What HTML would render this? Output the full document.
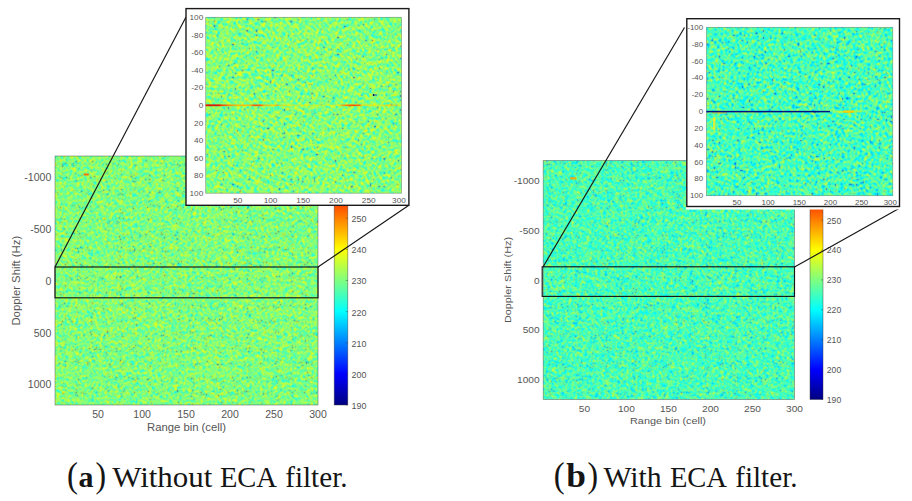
<!DOCTYPE html>
<html lang="en"><head><meta charset="utf-8"><title>Range-Doppler maps with and without ECA filter</title>
<style>
html,body{margin:0;padding:0;background:#fff;}
body{width:912px;height:501px;overflow:hidden;position:relative;font-family:"Liberation Sans",sans-serif;}
svg{position:absolute;left:0;top:0;display:block;}
svg text{font-family:"Liberation Sans",sans-serif;fill:#555;}
svg text.cap{font-family:"Liberation Serif",serif;fill:#151515;}
</style></head><body>
<svg width="912" height="501" viewBox="0 0 912 501">
<defs>
<filter id="nL" x="0" y="0" width="1" height="1" color-interpolation-filters="sRGB"><feTurbulence type="fractalNoise" baseFrequency="0.8" numOctaves="2" seed="11"/><feColorMatrix type="matrix" values="1 0 0 0 0 1 0 0 0 0 1 0 0 0 0 0 0 0 0 1"/><feConvolveMatrix order="3" kernelMatrix="1 2 1 2 7 2 1 2 1" edgeMode="duplicate" preserveAlpha="true"/><feComponentTransfer result="bulk"><feFuncR type="table" tableValues="0 0 0 0 0 0 0 0 0 0 0 0 0 0 0 0 0 0 0 0 0 0 0 0 0 0 0 0 0 0 0 0 0 0 0 0 0 0 0 0 0 0 0 0 0 0 0 0 0 0 0 0.031 0.071 0.111 0.15 0.186 0.223 0.259 0.296 0.332 0.368 0.405 0.442 0.48 0.518 0.554 0.59 0.626 0.662 0.697 0.731 0.766 0.801 0.837 0.873 0.909 0.946 0.982 1 1 1 1 1 1 1 1 1 1 1 1 1 1 1 1 1 1 1 1 1 1 1 1 1 1 1 1 1 1 1 1 1 1 1 1 1 1 1 1 1 1 1 1 1 1 1 1 1 1 1"/><feFuncG type="table" tableValues="0.87 0.87 0.87 0.87 0.87 0.87 0.87 0.87 0.87 0.87 0.87 0.87 0.87 0.87 0.87 0.87 0.87 0.87 0.87 0.87 0.87 0.87 0.87 0.87 0.87 0.87 0.87 0.87 0.87 0.87 0.87 0.87 0.87 0.87 0.87 0.87 0.87 0.87 0.87 0.87 0.87 0.87 0.87 0.87 0.87 0.87 0.87 0.87 0.912 0.951 0.993 1 1 1 1 1 1 1 1 1 1 1 1 1 1 1 1 1 1 1 1 1 1 1 1 1 1 1 0.977 0.939 0.906 0.88 0.88 0.88 0.88 0.88 0.88 0.88 0.88 0.88 0.88 0.88 0.88 0.88 0.88 0.88 0.88 0.88 0.88 0.88 0.88 0.88 0.88 0.88 0.88 0.88 0.88 0.88 0.88 0.88 0.88 0.88 0.88 0.88 0.88 0.88 0.88 0.88 0.88 0.88 0.88 0.88 0.88 0.88 0.88 0.88 0.88 0.88 0.88"/><feFuncB type="table" tableValues="1 1 1 1 1 1 1 1 1 1 1 1 1 1 1 1 1 1 1 1 1 1 1 1 1 1 1 1 1 1 1 1 1 1 1 1 1 1 1 1 1 1 1 1 1 1 1 1 1 1 1 0.969 0.929 0.889 0.85 0.814 0.777 0.741 0.704 0.668 0.632 0.595 0.558 0.52 0.482 0.446 0.41 0.374 0.338 0.303 0.269 0.234 0.199 0.163 0.127 0.091 0.054 0.018 0 0 0 0 0 0 0 0 0 0 0 0 0 0 0 0 0 0 0 0 0 0 0 0 0 0 0 0 0 0 0 0 0 0 0 0 0 0 0 0 0 0 0 0 0 0 0 0 0 0 0"/></feComponentTransfer><feTurbulence type="fractalNoise" baseFrequency="0.93" numOctaves="1" seed="5"/><feColorMatrix type="matrix" values="0 0 0 0 0.118 0 0 0 0 0.235 0 0 0 0 0.510 -11 0 0 0 3.465"/><feComposite operator="over" in2="bulk"/><feConvolveMatrix order="3" kernelMatrix="1 2 1 2 8 2 1 2 1" edgeMode="duplicate" preserveAlpha="true"/></filter>
<filter id="nR" x="0" y="0" width="1" height="1" color-interpolation-filters="sRGB"><feTurbulence type="fractalNoise" baseFrequency="0.8" numOctaves="2" seed="23"/><feColorMatrix type="matrix" values="1 0 0 0 0 1 0 0 0 0 1 0 0 0 0 0 0 0 0 1"/><feConvolveMatrix order="3" kernelMatrix="1 2 1 2 7 2 1 2 1" edgeMode="duplicate" preserveAlpha="true"/><feComponentTransfer result="bulk"><feFuncR type="table" tableValues="0 0 0 0 0 0 0 0 0 0 0 0 0 0 0 0 0 0 0 0 0 0 0 0 0 0 0 0 0 0 0 0 0 0 0 0 0 0 0 0 0 0 0 0 0 0 0 0 0 0 0 0 0 0 0 0 0.003 0.039 0.076 0.112 0.148 0.185 0.222 0.26 0.298 0.336 0.374 0.411 0.449 0.485 0.522 0.559 0.595 0.633 0.67 0.708 0.747 0.785 0.829 0.868 0.9 0.9 0.9 0.9 0.9 0.9 0.9 0.9 0.9 0.9 0.9 0.9 0.9 0.9 0.9 0.9 0.9 0.9 0.9 0.9 0.9 0.9 0.9 0.9 0.9 0.9 0.9 0.9 0.9 0.9 0.9 0.9 0.9 0.9 0.9 0.9 0.9 0.9 0.9 0.9 0.9 0.9 0.9 0.9 0.9 0.9 0.9 0.9 0.9"/><feFuncG type="table" tableValues="0.65 0.65 0.65 0.65 0.65 0.65 0.65 0.65 0.65 0.65 0.65 0.65 0.65 0.65 0.65 0.65 0.65 0.65 0.65 0.65 0.65 0.65 0.65 0.65 0.65 0.65 0.65 0.65 0.65 0.65 0.65 0.65 0.65 0.65 0.65 0.65 0.65 0.65 0.65 0.65 0.65 0.65 0.65 0.65 0.65 0.65 0.65 0.65 0.692 0.731 0.773 0.811 0.851 0.891 0.93 0.966 1 1 1 1 1 1 1 1 1 1 1 1 1 1 1 1 1 1 1 1 1 1 1 1 1 1 1 1 1 1 1 1 1 1 1 1 1 1 1 1 1 1 1 1 1 1 1 1 1 1 1 1 1 1 1 1 1 1 1 1 1 1 1 1 1 1 1 1 1 1 1 1 1"/><feFuncB type="table" tableValues="1 1 1 1 1 1 1 1 1 1 1 1 1 1 1 1 1 1 1 1 1 1 1 1 1 1 1 1 1 1 1 1 1 1 1 1 1 1 1 1 1 1 1 1 1 1 1 1 1 1 1 1 1 1 1 1 0.997 0.961 0.924 0.888 0.852 0.815 0.778 0.74 0.702 0.664 0.626 0.589 0.551 0.515 0.478 0.441 0.405 0.367 0.33 0.292 0.253 0.215 0.171 0.132 0.1 0.1 0.1 0.1 0.1 0.1 0.1 0.1 0.1 0.1 0.1 0.1 0.1 0.1 0.1 0.1 0.1 0.1 0.1 0.1 0.1 0.1 0.1 0.1 0.1 0.1 0.1 0.1 0.1 0.1 0.1 0.1 0.1 0.1 0.1 0.1 0.1 0.1 0.1 0.1 0.1 0.1 0.1 0.1 0.1 0.1 0.1 0.1 0.1"/></feComponentTransfer><feTurbulence type="fractalNoise" baseFrequency="0.93" numOctaves="1" seed="9"/><feColorMatrix type="matrix" values="0 0 0 0 0.039 0 0 0 0 0.275 0 0 0 0 0.843 -11 0 0 0 3.465"/><feComposite operator="over" in2="bulk"/><feConvolveMatrix order="3" kernelMatrix="1 2 1 2 8 2 1 2 1" edgeMode="duplicate" preserveAlpha="true"/></filter>
<filter id="iL" x="0" y="0" width="1" height="1" color-interpolation-filters="sRGB"><feTurbulence type="fractalNoise" baseFrequency="0.72" numOctaves="2" seed="37"/><feColorMatrix type="matrix" values="1 0 0 0 0 1 0 0 0 0 1 0 0 0 0 0 0 0 0 1"/><feConvolveMatrix order="3" kernelMatrix="1 2 1 2 4 2 1 2 1" edgeMode="duplicate" preserveAlpha="true"/><feComponentTransfer result="bulk"><feFuncR type="table" tableValues="0 0 0 0 0 0 0 0 0 0 0 0 0 0 0 0 0 0 0 0 0 0 0 0 0 0 0 0 0 0 0 0 0 0 0 0 0 0 0 0 0 0 0 0 0 0 0 0 0 0 0 0 0 0.026 0.075 0.119 0.165 0.213 0.259 0.304 0.35 0.394 0.439 0.483 0.529 0.569 0.61 0.652 0.692 0.733 0.773 0.815 0.856 0.897 0.94 0.983 1 1 1 1 1 1 1 1 1 1 1 1 1 1 1 1 1 1 1 1 1 1 1 1 1 1 1 1 1 1 1 1 1 1 1 1 1 1 1 1 1 1 1 1 1 1 1 1 1 1 1 1 1"/><feFuncG type="table" tableValues="0.88 0.88 0.88 0.88 0.88 0.88 0.88 0.88 0.88 0.88 0.88 0.88 0.88 0.88 0.88 0.88 0.88 0.88 0.88 0.88 0.88 0.88 0.88 0.88 0.88 0.88 0.88 0.88 0.88 0.88 0.88 0.88 0.88 0.88 0.88 0.88 0.88 0.88 0.88 0.88 0.88 0.88 0.88 0.88 0.88 0.88 0.88 0.88 0.88 0.88 0.882 0.923 0.975 1 1 1 1 1 1 1 1 1 1 1 1 1 1 1 1 1 1 1 1 1 1 1 0.97 0.927 0.876 0.87 0.87 0.87 0.87 0.87 0.87 0.87 0.87 0.87 0.87 0.87 0.87 0.87 0.87 0.87 0.87 0.87 0.87 0.87 0.87 0.87 0.87 0.87 0.87 0.87 0.87 0.87 0.87 0.87 0.87 0.87 0.87 0.87 0.87 0.87 0.87 0.87 0.87 0.87 0.87 0.87 0.87 0.87 0.87 0.87 0.87 0.87 0.87 0.87 0.87"/><feFuncB type="table" tableValues="1 1 1 1 1 1 1 1 1 1 1 1 1 1 1 1 1 1 1 1 1 1 1 1 1 1 1 1 1 1 1 1 1 1 1 1 1 1 1 1 1 1 1 1 1 1 1 1 1 1 1 1 1 0.974 0.925 0.881 0.835 0.787 0.741 0.696 0.65 0.606 0.561 0.517 0.471 0.431 0.39 0.348 0.308 0.267 0.227 0.185 0.144 0.103 0.06 0.017 0 0 0 0 0 0 0 0 0 0 0 0 0 0 0 0 0 0 0 0 0 0 0 0 0 0 0 0 0 0 0 0 0 0 0 0 0 0 0 0 0 0 0 0 0 0 0 0 0 0 0 0 0"/></feComponentTransfer><feTurbulence type="fractalNoise" baseFrequency="0.43" numOctaves="1" seed="15"/><feColorMatrix type="matrix" values="0 0 0 0 0.039 0 0 0 0 0.216 0 0 0 0 0.843 -18 0 0 0 5.310"/><feComposite operator="over" in2="bulk"/><feConvolveMatrix order="3" kernelMatrix="1 2 1 2 10 2 1 2 1" edgeMode="duplicate" preserveAlpha="true"/></filter>
<filter id="iR" x="0" y="0" width="1" height="1" color-interpolation-filters="sRGB"><feTurbulence type="fractalNoise" baseFrequency="0.72" numOctaves="2" seed="41"/><feColorMatrix type="matrix" values="1 0 0 0 0 1 0 0 0 0 1 0 0 0 0 0 0 0 0 1"/><feConvolveMatrix order="3" kernelMatrix="1 2 1 2 4 2 1 2 1" edgeMode="duplicate" preserveAlpha="true"/><feComponentTransfer result="bulk"><feFuncR type="table" tableValues="0 0 0 0 0 0 0 0 0 0 0 0 0 0 0 0 0 0 0 0 0 0 0 0 0 0 0 0 0 0 0 0 0 0 0 0 0 0 0 0 0 0 0 0 0 0 0 0 0 0 0 0 0 0 0 0 0 0 0.026 0.069 0.114 0.158 0.201 0.244 0.289 0.332 0.377 0.421 0.464 0.508 0.552 0.597 0.641 0.685 0.731 0.778 0.828 0.875 0.89 0.89 0.89 0.89 0.89 0.89 0.89 0.89 0.89 0.89 0.89 0.89 0.89 0.89 0.89 0.89 0.89 0.89 0.89 0.89 0.89 0.89 0.89 0.89 0.89 0.89 0.89 0.89 0.89 0.89 0.89 0.89 0.89 0.89 0.89 0.89 0.89 0.89 0.89 0.89 0.89 0.89 0.89 0.89 0.89 0.89 0.89 0.89 0.89 0.89 0.89"/><feFuncG type="table" tableValues="0.64 0.64 0.64 0.64 0.64 0.64 0.64 0.64 0.64 0.64 0.64 0.64 0.64 0.64 0.64 0.64 0.64 0.64 0.64 0.64 0.64 0.64 0.64 0.64 0.64 0.64 0.64 0.64 0.64 0.64 0.64 0.64 0.64 0.64 0.64 0.64 0.64 0.64 0.64 0.64 0.64 0.64 0.64 0.64 0.64 0.64 0.64 0.64 0.64 0.64 0.657 0.697 0.747 0.798 0.845 0.889 0.934 0.981 1 1 1 1 1 1 1 1 1 1 1 1 1 1 1 1 1 1 1 1 1 1 1 1 1 1 1 1 1 1 1 1 1 1 1 1 1 1 1 1 1 1 1 1 1 1 1 1 1 1 1 1 1 1 1 1 1 1 1 1 1 1 1 1 1 1 1 1 1 1 1"/><feFuncB type="table" tableValues="1 1 1 1 1 1 1 1 1 1 1 1 1 1 1 1 1 1 1 1 1 1 1 1 1 1 1 1 1 1 1 1 1 1 1 1 1 1 1 1 1 1 1 1 1 1 1 1 1 1 1 1 1 1 1 1 1 1 0.974 0.931 0.886 0.842 0.799 0.756 0.711 0.668 0.623 0.579 0.536 0.492 0.448 0.403 0.359 0.315 0.269 0.222 0.172 0.125 0.11 0.11 0.11 0.11 0.11 0.11 0.11 0.11 0.11 0.11 0.11 0.11 0.11 0.11 0.11 0.11 0.11 0.11 0.11 0.11 0.11 0.11 0.11 0.11 0.11 0.11 0.11 0.11 0.11 0.11 0.11 0.11 0.11 0.11 0.11 0.11 0.11 0.11 0.11 0.11 0.11 0.11 0.11 0.11 0.11 0.11 0.11 0.11 0.11 0.11 0.11"/></feComponentTransfer><feTurbulence type="fractalNoise" baseFrequency="0.43" numOctaves="1" seed="19"/><feColorMatrix type="matrix" values="0 0 0 0 0.020 0 0 0 0 0.235 0 0 0 0 0.902 -15 0 0 0 4.725"/><feComposite operator="over" in2="bulk"/><feConvolveMatrix order="3" kernelMatrix="1 2 1 2 10 2 1 2 1" edgeMode="duplicate" preserveAlpha="true"/></filter>
<linearGradient id="jet" x1="0" y1="0" x2="0" y2="1"><stop offset="0" stop-color="#800000"/><stop offset="0.125" stop-color="#ff0000"/><stop offset="0.375" stop-color="#ffff00"/><stop offset="0.625" stop-color="#00ffff"/><stop offset="0.875" stop-color="#0000ff"/><stop offset="1" stop-color="#000080"/></linearGradient>
</defs>
<!-- ===== panel a ===== -->
<g>
<clipPath id="cnL"><rect x="55" y="156" width="263.0" height="249.0"/></clipPath>
<g clip-path="url(#cnL)"><rect x="51" y="152" width="272" height="258" filter="url(#nL)"/></g>
<rect x="55" y="156" width="263.0" height="249.0" fill="none" stroke="#444" stroke-opacity="0.55" stroke-width="0.8"/>
<rect x="334.2" y="156" width="13.6" height="249.0" fill="url(#jet)" stroke="#333" stroke-opacity="0.6" stroke-width="0.7"/>
<text transform="translate(51.30,180.90) scale(1.035,1)" font-size="10.2" text-anchor="end">-1000</text>
<text transform="translate(51.30,232.78) scale(1.035,1)" font-size="10.2" text-anchor="end">-500</text>
<text transform="translate(51.30,284.65) scale(1.035,1)" font-size="10.2" text-anchor="end">0</text>
<text transform="translate(51.30,336.53) scale(1.035,1)" font-size="10.2" text-anchor="end">500</text>
<text transform="translate(51.30,388.40) scale(1.035,1)" font-size="10.2" text-anchor="end">1000</text>
<text transform="translate(98.10,418.25) scale(1.035,1)" font-size="10.2" text-anchor="middle">50</text>
<text transform="translate(142.08,418.25) scale(1.035,1)" font-size="10.2" text-anchor="middle">100</text>
<text transform="translate(186.06,418.25) scale(1.035,1)" font-size="10.2" text-anchor="middle">150</text>
<text transform="translate(230.04,418.25) scale(1.035,1)" font-size="10.2" text-anchor="middle">200</text>
<text transform="translate(274.02,418.25) scale(1.035,1)" font-size="10.2" text-anchor="middle">250</text>
<text transform="translate(318.00,418.25) scale(1.035,1)" font-size="10.2" text-anchor="middle">300</text>
<text transform="translate(186.50,431.35) scale(1.108,1)" font-size="10.2" text-anchor="middle">Range bin (cell)</text>
<text transform="translate(19.85,280.70) rotate(-90) scale(1.108,1)" font-size="10.2" text-anchor="middle">Doppler Shift (Hz)</text>
<text transform="translate(351.50,408.94) scale(0.93,1)" font-size="9.6" text-anchor="start">190</text>
<line x1="345.8" y1="405.0" x2="347.8" y2="405.0" stroke="#333" stroke-opacity="0.6" stroke-width="0.7"/>
<text transform="translate(351.50,377.81) scale(0.93,1)" font-size="9.6" text-anchor="start">200</text>
<line x1="345.8" y1="373.9" x2="347.8" y2="373.9" stroke="#333" stroke-opacity="0.6" stroke-width="0.7"/>
<text transform="translate(351.50,346.69) scale(0.93,1)" font-size="9.6" text-anchor="start">210</text>
<line x1="345.8" y1="342.8" x2="347.8" y2="342.8" stroke="#333" stroke-opacity="0.6" stroke-width="0.7"/>
<text transform="translate(351.50,315.56) scale(0.93,1)" font-size="9.6" text-anchor="start">220</text>
<line x1="345.8" y1="311.6" x2="347.8" y2="311.6" stroke="#333" stroke-opacity="0.6" stroke-width="0.7"/>
<text transform="translate(351.50,284.44) scale(0.93,1)" font-size="9.6" text-anchor="start">230</text>
<line x1="345.8" y1="280.5" x2="347.8" y2="280.5" stroke="#333" stroke-opacity="0.6" stroke-width="0.7"/>
<text transform="translate(351.50,253.31) scale(0.93,1)" font-size="9.6" text-anchor="start">240</text>
<line x1="345.8" y1="249.4" x2="347.8" y2="249.4" stroke="#333" stroke-opacity="0.6" stroke-width="0.7"/>
<text transform="translate(351.50,222.19) scale(0.93,1)" font-size="9.6" text-anchor="start">250</text>
<line x1="345.8" y1="218.2" x2="347.8" y2="218.2" stroke="#333" stroke-opacity="0.6" stroke-width="0.7"/>
<rect x="55" y="267" width="263.0" height="30.8" fill="none" stroke="#151515" stroke-width="1.15"/>
<line x1="55" y1="267" x2="186" y2="17" stroke="#151515" stroke-width="1.15"/>
<line x1="318" y1="267" x2="408.9" y2="205.3" stroke="#151515" stroke-width="1.15"/>
<rect x="186" y="8.6" width="222.9" height="196.7" fill="#fff"/>
<rect x="186" y="8.6" width="222.9" height="196.7" fill="#fff" stroke="#1a1a1a" stroke-width="1.4"/>
<clipPath id="ciL"><rect x="205.7" y="17.3" width="195.8" height="175.9"/></clipPath>
<g clip-path="url(#ciL)"><rect x="201" y="13" width="204" height="184" filter="url(#iL)"/></g>
<rect x="205.7" y="17.3" width="195.8" height="175.9" fill="none" stroke="#444" stroke-opacity="0.5" stroke-width="0.7"/>
<text transform="translate(203.30,20.02) scale(1.09,1)" font-size="7.6" text-anchor="end">100</text>
<text transform="translate(203.30,37.61) scale(1.09,1)" font-size="7.6" text-anchor="end">-80</text>
<text transform="translate(203.30,55.20) scale(1.09,1)" font-size="7.6" text-anchor="end">-60</text>
<text transform="translate(203.30,72.79) scale(1.09,1)" font-size="7.6" text-anchor="end">-40</text>
<text transform="translate(203.30,90.38) scale(1.09,1)" font-size="7.6" text-anchor="end">-20</text>
<text transform="translate(203.30,107.97) scale(1.09,1)" font-size="7.6" text-anchor="end">0</text>
<text transform="translate(203.30,125.56) scale(1.09,1)" font-size="7.6" text-anchor="end">20</text>
<text transform="translate(203.30,143.15) scale(1.09,1)" font-size="7.6" text-anchor="end">40</text>
<text transform="translate(203.30,160.74) scale(1.09,1)" font-size="7.6" text-anchor="end">60</text>
<text transform="translate(203.30,178.33) scale(1.09,1)" font-size="7.6" text-anchor="end">80</text>
<text transform="translate(203.30,195.92) scale(1.09,1)" font-size="7.6" text-anchor="end">100</text>
<text transform="translate(237.79,203.22) scale(1.09,1)" font-size="7.6" text-anchor="middle">50</text>
<text transform="translate(270.53,203.22) scale(1.09,1)" font-size="7.6" text-anchor="middle">100</text>
<text transform="translate(303.27,203.22) scale(1.09,1)" font-size="7.6" text-anchor="middle">150</text>
<text transform="translate(336.02,203.22) scale(1.09,1)" font-size="7.6" text-anchor="middle">200</text>
<text transform="translate(368.76,203.22) scale(1.09,1)" font-size="7.6" text-anchor="middle">250</text>
<text transform="translate(399.00,203.22) scale(1.09,1)" font-size="7.6" text-anchor="middle">300</text>
</g>
<defs><linearGradient id="stkL" x1="0" y1="0" x2="1" y2="0"><stop offset="0" stop-color="#e22000" stop-opacity="1"/><stop offset="0.02" stop-color="#d00800" stop-opacity="1"/><stop offset="0.06" stop-color="#e01800" stop-opacity="1"/><stop offset="0.085" stop-color="#ff4000" stop-opacity="1"/><stop offset="0.12" stop-color="#ff8800" stop-opacity="0.95"/><stop offset="0.16" stop-color="#ffb000" stop-opacity="0.85"/><stop offset="0.225" stop-color="#ffb800" stop-opacity="0.8"/><stop offset="0.245" stop-color="#ff5000" stop-opacity="0.95"/><stop offset="0.28" stop-color="#ff5800" stop-opacity="0.95"/><stop offset="0.3" stop-color="#ffb000" stop-opacity="0.8"/><stop offset="0.35" stop-color="#ffd000" stop-opacity="0.7"/><stop offset="0.362" stop-color="#ff9800" stop-opacity="0.85"/><stop offset="0.378" stop-color="#ffd400" stop-opacity="0.7"/><stop offset="0.43" stop-color="#f2e400" stop-opacity="0.55"/><stop offset="0.62" stop-color="#eaf000" stop-opacity="0.4"/><stop offset="0.68" stop-color="#ffe000" stop-opacity="0.6"/><stop offset="0.7" stop-color="#ff9c00" stop-opacity="0.9"/><stop offset="0.745" stop-color="#ff4c00" stop-opacity="1"/><stop offset="0.785" stop-color="#ff5c00" stop-opacity="0.95"/><stop offset="0.8" stop-color="#ffd000" stop-opacity="0.6"/><stop offset="0.9" stop-color="#f4e800" stop-opacity="0.5"/><stop offset="0.94" stop-color="#ffb400" stop-opacity="0.65"/><stop offset="1" stop-color="#eef000" stop-opacity="0.45"/></linearGradient></defs>
<g><rect x="205.7" y="104.05" width="195.8" height="2.5" fill="url(#stkL)" opacity="0.25"/><rect x="205.7" y="104.64999999999999" width="195.8" height="1.3" fill="url(#stkL)"/><rect x="205.7" y="104.39999999999999" width="15" height="1.8" fill="#e01800" opacity="0.4"/><rect x="372.9" y="94" width="1.4" height="2" fill="#000a60"/><rect x="374.3" y="94.2" width="2.6" height="1.6" fill="#4a6a8a" opacity="0.85"/><rect x="369.5" y="94.3" width="3" height="1.5" fill="#f0f000" opacity="0.6"/><rect x="391" y="94.3" width="6" height="1.5" fill="#f0f000" opacity="0.55"/></g>
<rect x="83.5" y="173.6" width="5.5" height="2" rx="1" fill="#ff6c00"/>
<!-- ===== panel b ===== -->
<g>
<clipPath id="cnR"><rect x="543.2" y="160.4" width="251.3" height="239.1"/></clipPath>
<g clip-path="url(#cnR)"><rect x="539" y="156" width="260" height="248" filter="url(#nR)"/></g>
<rect x="543.2" y="160.4" width="251.3" height="239.1" fill="none" stroke="#444" stroke-opacity="0.55" stroke-width="0.8"/>
<rect x="810" y="160.4" width="13.0" height="239.1" fill="url(#jet)" stroke="#333" stroke-opacity="0.6" stroke-width="0.7"/>
<text transform="translate(539.60,183.93) scale(1.035,1)" font-size="9.8" text-anchor="end">-1000</text>
<text transform="translate(539.60,233.75) scale(1.035,1)" font-size="9.8" text-anchor="end">-500</text>
<text transform="translate(539.60,283.56) scale(1.035,1)" font-size="9.8" text-anchor="end">0</text>
<text transform="translate(539.60,333.37) scale(1.035,1)" font-size="9.8" text-anchor="end">500</text>
<text transform="translate(539.60,383.18) scale(1.035,1)" font-size="9.8" text-anchor="end">1000</text>
<text transform="translate(584.38,412.21) scale(1.035,1)" font-size="9.8" text-anchor="middle">50</text>
<text transform="translate(626.41,412.21) scale(1.035,1)" font-size="9.8" text-anchor="middle">100</text>
<text transform="translate(668.43,412.21) scale(1.035,1)" font-size="9.8" text-anchor="middle">150</text>
<text transform="translate(710.45,412.21) scale(1.035,1)" font-size="9.8" text-anchor="middle">200</text>
<text transform="translate(752.48,412.21) scale(1.035,1)" font-size="9.8" text-anchor="middle">250</text>
<text transform="translate(794.50,412.21) scale(1.035,1)" font-size="9.8" text-anchor="middle">300</text>
<text transform="translate(668.00,424.21) scale(1.108,1)" font-size="9.8" text-anchor="middle">Range bin (cell)</text>
<text transform="translate(511.31,280.00) rotate(-90) scale(1.108,1)" font-size="9.8" text-anchor="middle">Doppler Shift (Hz)</text>
<text transform="translate(826.80,402.93) scale(0.93,1)" font-size="9.3" text-anchor="start">190</text>
<line x1="821" y1="399.5" x2="823" y2="399.5" stroke="#333" stroke-opacity="0.6" stroke-width="0.7"/>
<text transform="translate(826.80,373.04) scale(0.93,1)" font-size="9.3" text-anchor="start">200</text>
<line x1="821" y1="369.6" x2="823" y2="369.6" stroke="#333" stroke-opacity="0.6" stroke-width="0.7"/>
<text transform="translate(826.80,343.15) scale(0.93,1)" font-size="9.3" text-anchor="start">210</text>
<line x1="821" y1="339.7" x2="823" y2="339.7" stroke="#333" stroke-opacity="0.6" stroke-width="0.7"/>
<text transform="translate(826.80,313.27) scale(0.93,1)" font-size="9.3" text-anchor="start">220</text>
<line x1="821" y1="309.8" x2="823" y2="309.8" stroke="#333" stroke-opacity="0.6" stroke-width="0.7"/>
<text transform="translate(826.80,283.38) scale(0.93,1)" font-size="9.3" text-anchor="start">230</text>
<line x1="821" y1="279.9" x2="823" y2="279.9" stroke="#333" stroke-opacity="0.6" stroke-width="0.7"/>
<text transform="translate(826.80,253.49) scale(0.93,1)" font-size="9.3" text-anchor="start">240</text>
<line x1="821" y1="250.1" x2="823" y2="250.1" stroke="#333" stroke-opacity="0.6" stroke-width="0.7"/>
<text transform="translate(826.80,223.60) scale(0.93,1)" font-size="9.3" text-anchor="start">250</text>
<line x1="821" y1="220.2" x2="823" y2="220.2" stroke="#333" stroke-opacity="0.6" stroke-width="0.7"/>
<rect x="542.2" y="266.8" width="252.3" height="29.6" fill="none" stroke="#151515" stroke-width="1.15"/>
<line x1="543" y1="267" x2="684.5" y2="27.5" stroke="#151515" stroke-width="1.15"/>
<line x1="794.5" y1="267" x2="898.5" y2="208.8" stroke="#151515" stroke-width="1.15"/>
<rect x="686.0" y="17.9" width="214.3" height="191.6" fill="#fff"/>
<rect x="686.8" y="18.7" width="212.7" height="187.8" fill="#fff" stroke="#1a1a1a" stroke-width="1.4"/>
<clipPath id="ciR"><rect x="706.4" y="27.3" width="186.4" height="168.4"/></clipPath>
<g clip-path="url(#ciR)"><rect x="702" y="23" width="195" height="177" filter="url(#iR)"/></g>
<rect x="706.4" y="27.3" width="186.4" height="168.4" fill="none" stroke="#444" stroke-opacity="0.5" stroke-width="0.7"/>
<text transform="translate(703.20,29.91) scale(1.09,1)" font-size="7.3" text-anchor="end">-100</text>
<text transform="translate(703.20,46.75) scale(1.09,1)" font-size="7.3" text-anchor="end">-80</text>
<text transform="translate(703.20,63.59) scale(1.09,1)" font-size="7.3" text-anchor="end">-60</text>
<text transform="translate(703.20,80.43) scale(1.09,1)" font-size="7.3" text-anchor="end">-40</text>
<text transform="translate(703.20,97.27) scale(1.09,1)" font-size="7.3" text-anchor="end">-20</text>
<text transform="translate(703.20,114.11) scale(1.09,1)" font-size="7.3" text-anchor="end">0</text>
<text transform="translate(703.20,130.95) scale(1.09,1)" font-size="7.3" text-anchor="end">20</text>
<text transform="translate(703.20,147.79) scale(1.09,1)" font-size="7.3" text-anchor="end">40</text>
<text transform="translate(703.20,164.63) scale(1.09,1)" font-size="7.3" text-anchor="end">60</text>
<text transform="translate(703.20,181.47) scale(1.09,1)" font-size="7.3" text-anchor="end">80</text>
<text transform="translate(703.20,198.31) scale(1.09,1)" font-size="7.3" text-anchor="end">100</text>
<text transform="translate(736.95,205.41) scale(1.09,1)" font-size="7.3" text-anchor="middle">50</text>
<text transform="translate(768.12,205.41) scale(1.09,1)" font-size="7.3" text-anchor="middle">100</text>
<text transform="translate(799.29,205.41) scale(1.09,1)" font-size="7.3" text-anchor="middle">150</text>
<text transform="translate(830.46,205.41) scale(1.09,1)" font-size="7.3" text-anchor="middle">200</text>
<text transform="translate(861.63,205.41) scale(1.09,1)" font-size="7.3" text-anchor="middle">250</text>
<text transform="translate(890.30,205.41) scale(1.09,1)" font-size="7.3" text-anchor="middle">300</text>
</g>
<g><rect x="712" y="112.1" width="15" height="1.5" fill="#ffb800" opacity="0.7"/><rect x="735" y="112.1" width="22" height="1.3" fill="#f0e800" opacity="0.45"/><rect x="706.4" y="110.85" width="123.6" height="1.5" fill="#001082"/><rect x="843" y="110.6" width="11" height="2.1" rx="0.9" fill="#ffb000" opacity="0.95"/><rect x="836" y="110.8" width="26" height="1.7" rx="0.7" fill="#f4f000" opacity="0.6"/><rect x="713" y="117" width="2.5" height="13" rx="1.2" fill="#f4f020" opacity="0.85"/></g>
<rect x="570" y="177.2" width="6.5" height="2.2" rx="1" fill="#ffa000" opacity="0.9"/>
<g id="capA">
<text class="cap" x="67.0" y="486.8" font-size="36" textLength="10.9" lengthAdjust="spacingAndGlyphs">(</text>
<text class="cap" x="78.6" y="486.5" font-size="30" font-weight='bold' textLength="15.0" lengthAdjust="spacingAndGlyphs">a</text>
<text class="cap" x="95.6" y="486.8" font-size="36" textLength="10.6" lengthAdjust="spacingAndGlyphs">)</text>
<text class="cap" x="112.2" y="486.5" font-size="29" textLength="100.1" lengthAdjust="spacingAndGlyphs">Without</text>
<text class="cap" x="219.9" y="486.5" font-size="29" textLength="57.1" lengthAdjust="spacingAndGlyphs">ECA</text>
<text class="cap" x="285.2" y="486.5" font-size="29" textLength="62.4" lengthAdjust="spacingAndGlyphs">filter.</text>
</g>
<g id="capB">
<text class="cap" x="553.7" y="486.8" font-size="36" textLength="10.9" lengthAdjust="spacingAndGlyphs">(</text>
<text class="cap" x="566.3" y="486.5" font-size="34" font-weight='bold' textLength="19.7" lengthAdjust="spacingAndGlyphs">b</text>
<text class="cap" x="587.6" y="486.8" font-size="36" textLength="10.6" lengthAdjust="spacingAndGlyphs">)</text>
<text class="cap" x="603.4" y="486.5" font-size="29" textLength="58.2" lengthAdjust="spacingAndGlyphs">With</text>
<text class="cap" x="669.9" y="486.5" font-size="29" textLength="57.1" lengthAdjust="spacingAndGlyphs">ECA</text>
<text class="cap" x="735.2" y="486.5" font-size="29" textLength="62.4" lengthAdjust="spacingAndGlyphs">filter.</text>
</g>
</svg>
</body></html>
